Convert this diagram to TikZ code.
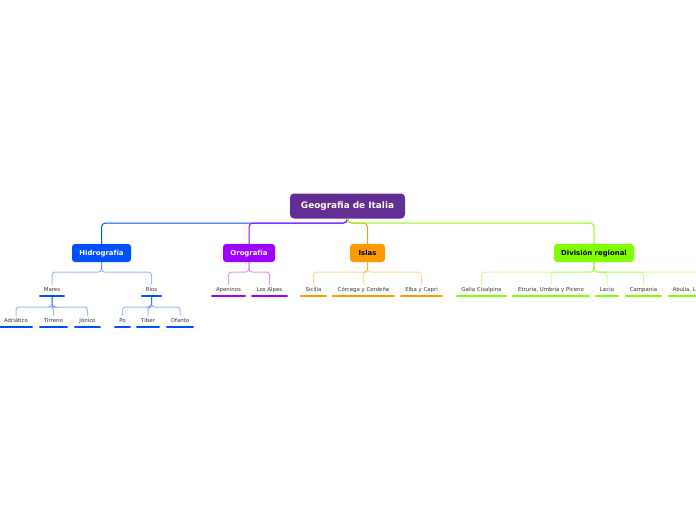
\documentclass[tikz,border=0pt]{standalone}
\usepackage{fontspec}
\setmainfont{DejaVu Sans}
\definecolor{rootc}{HTML}{632D91}
\definecolor{bluec}{HTML}{0050FF}
\definecolor{purc}{HTML}{A000FF}
\definecolor{orac}{HTML}{FF9900}
\definecolor{grec}{HTML}{80FF00}
\definecolor{txtc}{HTML}{333333}
\tikzset{
  rootbox/.style={fill=rootc, rounded corners=4pt, minimum width=115pt, minimum height=25pt, inner sep=0pt, text=white, font=\fontsize{8.9pt}{10pt}\selectfont\bfseries},
  mainbox/.style={fill=#1, rounded corners=3pt, minimum height=18pt, inner sep=0pt, font=\fontsize{6.9pt}{8pt}\selectfont\bfseries},
  leaf/.style={anchor=south, inner xsep=0pt, inner ysep=3pt, text height=4pt, text depth=1pt, text=txtc, font=\fontsize{5.4pt}{6pt}\selectfont},
  ul/.style={line width=2.6pt, line cap=round, draw=#1},
  topcon/.style={draw=#1, line width=1pt, rounded corners=4pt},
  subcon/.style={draw=#1, line width=1pt, rounded corners=3pt, draw opacity=0.4},
}
\newcommand{\leafnode}[5]{% name, x, y(bottom), width, text
  \node[leaf, minimum width=#4pt] (#1) at (#2,#3) {#5};}
\newcommand{\ulnode}[2]{\draw[ul=#2] ([xshift=1.3pt]#1.south west) -- ([xshift=-1.3pt]#1.south east);}
\begin{document}
\begin{tikzpicture}[x=1pt,y=-1pt]
\useasboundingbox (0,0) rectangle (696,520);
\clip (0,0) rectangle (696,520);

% root and main nodes
\node[rootbox] (root) at (347.5,206) {Geografia de Italia};
\node[mainbox=bluec, minimum width=59pt, text=white] (hid) at (101.5,253) {Hidrografía};
\node[mainbox=purc, minimum width=52pt, text=white] (oro) at (249,253) {Orografía};
\node[mainbox=orac, minimum width=35pt, text=black] (isl) at (367.5,253) {Islas};
\node[mainbox=grec, minimum width=80pt, text=black] (div) at (594,253) {División regional};

\coordinate (rb) at (0,223);
\draw[topcon=bluec] (root.south) -- (root.south |- rb) -| (hid.north);
\draw[topcon=purc] (root.south) -- (root.south |- rb) -| (oro.north);
\draw[topcon=orac] (root.south) -- (root.south |- rb) -| (isl.north);
\draw[topcon=grec] (root.south) -- (root.south |- rb) -| (div.north);

% level 2 leaves
\leafnode{mar}{52}{296}{26}{Mares}
\leafnode{rio}{151.5}{296}{21}{Ríos}
\leafnode{ape}{228.5}{296}{35}{Apeninos}
\leafnode{alp}{269.5}{296}{37}{Los Alpes}
\leafnode{sic}{313.5}{296}{27}{Sicilia}
\leafnode{cor}{363.5}{296}{63}{Córcega y Cerdeña}
\leafnode{elb}{421.5}{296}{43}{Elba y Capri}
\leafnode{gal}{481.5}{296}{51}{Galia Cisalpina}
\leafnode{etr}{551}{296}{78}{Etruria, Umbria y Piceno}
\leafnode{lac}{607}{296}{24}{Lacio}
\leafnode{cam}{643.5}{296}{37}{Campania}
\leafnode{abu}{705}{296}{74}{Abulia, Lucania y Brucio}

% level 3 leaves
\leafnode{adr}{16}{327}{34}{Adriático}
\leafnode{tir}{53.5}{327}{29}{Tirreno}
\leafnode{jon}{87.5}{327}{27}{Jónico}
\leafnode{po}{122.5}{327}{17}{Po}
\leafnode{tib}{148}{327}{24}{Tiber}
\leafnode{ofa}{180}{327}{28}{Ofanto}

% level 2 connectors
\coordinate (b2) at (0,272);
\foreach \c in {mar,rio} {\draw[subcon=bluec] (hid.south) -- (hid.south |- b2) -| (\c.north);}
\foreach \c in {ape,alp} {\draw[subcon=purc] (oro.south) -- (oro.south |- b2) -| (\c.north);}
\foreach \c in {sic,cor,elb} {\draw[subcon=orac] (isl.south) -- (isl.south |- b2) -| (\c.north);}
\foreach \c in {gal,etr,lac,cam,abu} {\draw[subcon=grec] (div.south) -- (div.south |- b2) -| (\c.north);}

% level 3 connectors
\coordinate (b3) at (0,307);
\foreach \c in {adr,tir,jon} {\draw[subcon=bluec] (mar.south) -- (mar.south |- b3) -| (\c.north);}
\foreach \c in {po,tib,ofa} {\draw[subcon=bluec] (rio.south) -- (rio.south |- b3) -| (\c.north);}

% underlines
\foreach \n in {mar,rio,adr,tir,jon,po,tib,ofa} {\ulnode{\n}{bluec}}
\foreach \n in {ape,alp} {\ulnode{\n}{purc}}
\foreach \n in {sic,cor,elb} {\ulnode{\n}{orac}}
\foreach \n in {gal,etr,lac,cam,abu} {\ulnode{\n}{grec}}
\end{tikzpicture}
\end{document}
